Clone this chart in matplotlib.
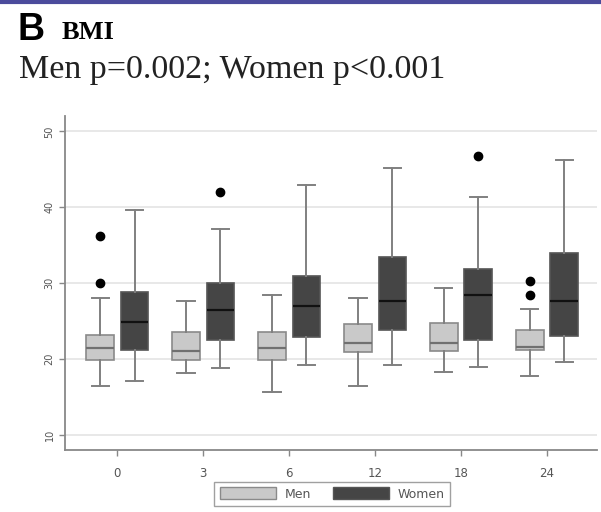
import numpy as np
import matplotlib
matplotlib.use("Agg")
import matplotlib.pyplot as plt
from matplotlib.patches import Patch
from matplotlib.lines import Line2D

# months of follow-up
months = ["0", "3", "6", "12", "18", "24"]

# Men: box plot statistics (BMI, kg/m2)
men_whislo = [16.4, 18.2, 15.7, 16.4, 18.3, 17.8]
men_q1     = [19.9, 19.9, 19.9, 20.9, 21.0, 21.2]
men_med    = [21.4, 21.1, 21.4, 22.1, 22.1, 21.6]
men_q3     = [23.2, 23.5, 23.5, 24.6, 24.7, 23.8]
men_whishi = [28.1, 27.7, 28.5, 28.1, 29.4, 26.6]
men_fliers = [[30.0, 36.2], [], [], [], [], [28.4, 30.3]]

# Women: box plot statistics
wom_whislo = [17.1, 18.8, 19.2, 19.2, 18.9, 19.6]
wom_q1     = [21.2, 22.5, 22.9, 23.8, 22.5, 23.0]
wom_med    = [24.9, 26.4, 27.0, 27.7, 28.4, 27.7]
wom_q3     = [28.8, 30.0, 31.0, 33.5, 31.9, 34.0]
wom_whishi = [39.6, 37.2, 42.9, 45.2, 41.4, 46.2]
wom_fliers = [[], [42.0], [], [], [46.8], []]

yticks = [10, 20, 30, 40, 50]

def stats(lo, q1, med, q3, hi, fl):
    out = []
    for i in range(len(lo)):
        out.append(dict(whislo=lo[i], q1=q1[i], med=med[i], q3=q3[i],
                        whishi=hi[i], fliers=fl[i]))
    return out

fig = plt.figure(figsize=(6.01, 5.12), dpi=100)
ax = fig.add_axes([0.108, 0.121, 0.885, 0.652])

x = np.arange(len(months))
off = 0.2
w = 0.32

flier = dict(marker="o", markerfacecolor="black", markeredgecolor="black",
             markersize=6, linestyle="none")

ax.bxp(stats(men_whislo, men_q1, men_med, men_q3, men_whishi, men_fliers),
       positions=x - off, widths=w, patch_artist=True, showfliers=True,
       boxprops=dict(facecolor="#c9c9c9", edgecolor="#8a8a8a", linewidth=1.2),
       medianprops=dict(color="#707070", linewidth=1.6),
       whiskerprops=dict(color="#808080", linewidth=1.4),
       capprops=dict(color="#808080", linewidth=1.4),
       capwidths=0.2, flierprops=flier)

ax.bxp(stats(wom_whislo, wom_q1, wom_med, wom_q3, wom_whishi, wom_fliers),
       positions=x + off, widths=w, patch_artist=True, showfliers=True,
       boxprops=dict(facecolor="#454545", edgecolor="#555555", linewidth=1.2),
       medianprops=dict(color="#111111", linewidth=1.6),
       whiskerprops=dict(color="#808080", linewidth=1.4),
       capprops=dict(color="#808080", linewidth=1.4),
       capwidths=0.2, flierprops=flier)

ax.set_xlim(-0.61, 5.58)
ax.set_ylim(8, 52)
ax.set_xticks(x)
ax.set_xticklabels(months, fontsize=8.5, color="#555555")
ax.set_yticks(yticks)
ax.set_yticklabels([str(v) for v in yticks], fontsize=7, color="#555555",
                   rotation=90, va="center")
ax.grid(axis="y", color="#e4e4e4", linewidth=1.2)
ax.set_axisbelow(True)
for s in ["top", "right"]:
    ax.spines[s].set_visible(False)
for s in ["left", "bottom"]:
    ax.spines[s].set_color("#888888")
    ax.spines[s].set_linewidth(1.3)
ax.tick_params(axis="both", colors="#888888", length=4, width=1,
               labelcolor="#555555")
ax.tick_params(axis="x", pad=8)

handles = [Patch(facecolor="#c9c9c9", edgecolor="#8a8a8a", label="Men"),
           Patch(facecolor="#454545", edgecolor="#555555", label="Women")]
leg = fig.legend(handles=handles, loc="center", bbox_to_anchor=(0.553, 0.035),
                 ncol=2, fontsize=9, frameon=True, fancybox=False,
                 handlelength=4.5, handleheight=1.1, columnspacing=1.7,
                 handletextpad=0.7, borderpad=0.45, labelcolor="#555555")
leg.get_frame().set_edgecolor("#888888")
leg.get_frame().set_linewidth(1.0)

# header
fig.add_artist(Line2D([0, 1], [0.996, 0.996], color="#4b4b9c", linewidth=3,
                      transform=fig.transFigure))
fig.text(0.029, 0.922, "B", fontsize=27, fontweight="bold",
         family="Liberation Sans", va="baseline")
fig.text(0.102, 0.924, "BMI", fontsize=19, fontweight="bold",
         family="Liberation Serif", va="baseline")
fig.text(0.031, 0.848, "Men p=0.002; Women p<0.001", fontsize=24.5,
         family="Liberation Serif", va="baseline", color="#222222")

fig.savefig("out.png", dpi=100)
